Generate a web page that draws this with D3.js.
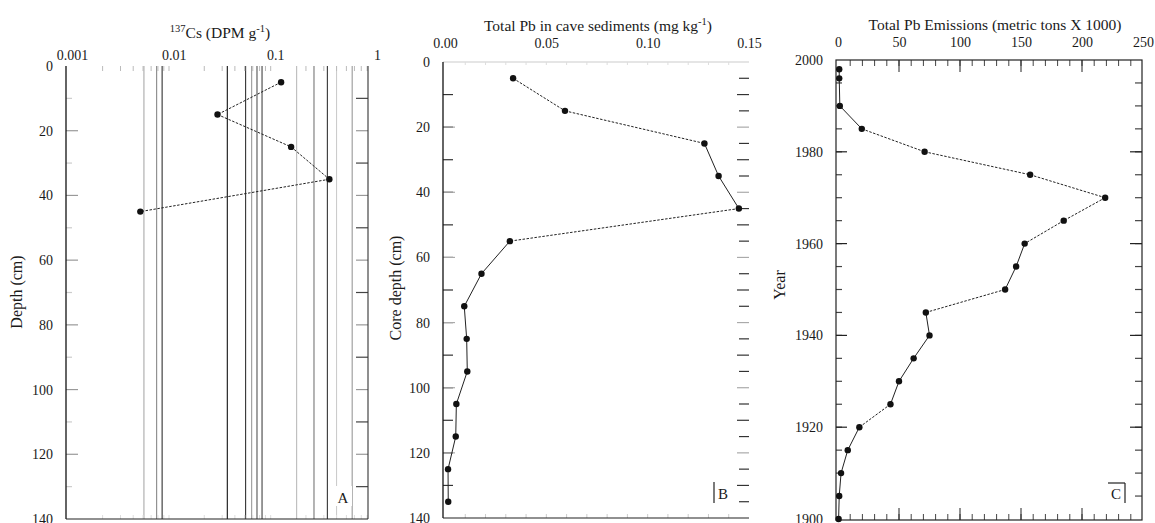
<!DOCTYPE html>
<html>
<head>
<meta charset="utf-8">
<script src="https://cdn.jsdelivr.net/npm/d3@7"></script>
<style>
  body { margin: 0; background: #fff; }
  svg text { font-family: "Liberation Serif", "DejaVu Serif", serif; fill: #1a1a1a; }
</style>
</head>
<body>
<div id="chart"></div>
<script>
// values

// panel A - 137Cs activity
const csDepth = [5, 15, 25, 35, 45];
const csValue = [0.114, 0.027, 0.143, 0.34, 0.0047];
// the vertical grid lines that show up in panel A
const csGrid = [0.0051, 0.0068, 0.0077, 0.0337, 0.051, 0.0585, 0.066, 0.074, 0.162, 0.24, 0.325, 0.40, 0.57];
const csTicks = [0.001, 0.01, 0.1, 1];

// panel B - total Pb in cave sediments
const pbDepth = [5, 15, 25, 35, 45, 55, 65, 75, 85, 95, 105, 115, 125, 135];
const pbValue = [0.0336, 0.0592, 0.128, 0.135, 0.145, 0.032, 0.018, 0.0095, 0.0107, 0.011, 0.0056, 0.0053, 0.0015, 0.0016];
const pbTicks = [0, 0.05, 0.10, 0.15];

// panel C - total Pb emissions
const emYear = [1998, 1996, 1990, 1985, 1980, 1975, 1970, 1965, 1960, 1955, 1950, 1945, 1940, 1935, 1930, 1925, 1920, 1915, 1910, 1905, 1900];
const emValue = [1, 1, 1.5, 19.5, 71, 157.5, 219, 185, 153, 146, 137, 72, 75, 62, 50, 43, 17.5, 8, 2.5, 1, 0.5];
const emTicks = [0, 50, 100, 150, 200, 250];

const depthTicks = [0, 20, 40, 60, 80, 100, 120, 140];
const yearTicks = [1900, 1920, 1940, 1960, 1980, 2000];

const width = 1155, height = 523;

const svg = d3.select("#chart")
  .append("svg")
  .attr("width", width)
  .attr("height", height);

// grey shades of the grid lines in panel A (scan look)
const gridShade = ["#aaa", "#888", "#333", "#111", "#333", "#999", "#555", "#444", "#bbb", "#777", "#333", "#ccc", "#999"];

// draws points joined by thin lines; shallow segments come out dotted like the scan
function drawProfile(g, x, y, xv, yv) {
  for (let i = 0; i < xv.length - 1; i++) {
    const x1 = x(xv[i]), y1 = y(yv[i]), x2 = x(xv[i + 1]), y2 = y(yv[i + 1]);
    const shallow = Math.abs(x2 - x1) > Math.abs(y2 - y1);
    g.append("line")
      .attr("x1", x1).attr("y1", y1)
      .attr("x2", x2).attr("y2", y2)
      .attr("stroke", "#222")
      .attr("stroke-width", 1)
      .attr("stroke-dasharray", shallow ? "2.5,1.5" : null);
  }
  g.selectAll("circle.pt")
    .data(xv)
    .enter()
    .append("circle")
      .attr("class", "pt")
      .attr("cx", (d) => x(d))
      .attr("cy", (d, i) => y(yv[i]))
      .attr("r", 3.2)
      .attr("fill", "#111");
}

// inward tick marks along a vertical edge
function vTicks(g, y, values, xEdge, dir, len, color) {
  g.selectAll(null)
    .data(values)
    .enter()
    .append("line")
      .attr("x1", xEdge).attr("x2", xEdge + dir * len)
      .attr("y1", (d) => y(d)).attr("y2", (d) => y(d))
      .attr("stroke", color)
      .attr("stroke-width", 1.2);
}

// inward tick marks along a horizontal edge
function hTicks(g, x, values, yEdge, dir, len, color) {
  g.selectAll(null)
    .data(values)
    .enter()
    .append("line")
      .attr("y1", yEdge).attr("y2", yEdge + dir * len)
      .attr("x1", (d) => x(d)).attr("x2", (d) => x(d))
      .attr("stroke", color)
      .attr("stroke-width", 1);
}

function superTitle(parts, cx, cy) {
  const t = svg.append("text")
    .attr("x", cx).attr("y", cy)
    .attr("text-anchor", "middle")
    .attr("font-size", "15.5px");
  parts.forEach((p) => {
    t.append("tspan")
      .attr("font-size", p.sup ? "10.5px" : "15.5px")
      .attr("dy", p.sup ? -6 : (p.after ? 6 : 0))
      .text(p.text);
  });
}

function leftLabels(g, y, values, xEdge, fmt) {
  g.append("g")
    .attr("transform", `translate(${xEdge},0)`)
    .call(d3.axisLeft(y).tickValues(values).tickSize(0).tickPadding(13).tickFormat(fmt))
    .call((a) => a.select(".domain").remove())
    .selectAll("text")
      .attr("font-size", "14px")
      .attr("font-family", "Liberation Serif, serif");
}

function topLabels(g, x, values, yPos, fmt) {
  g.append("g")
    .attr("transform", `translate(0,${yPos})`)
    .call(d3.axisTop(x).tickValues(values).tickSize(0).tickPadding(0).tickFormat(fmt))
    .call((a) => a.select(".domain").remove())
    .selectAll("text")
      .attr("font-size", "14px")
      .attr("font-family", "Liberation Serif, serif");
}

// ---------------- panel A ----------------
const gA = svg.append("g");
const aLeft = 66, aRight = 368, aTop = 66, aBottom = 519;

const xA = d3.scaleLog().domain([0.001, 1]).range([72, 377]);
const yA = d3.scaleLinear().domain([0, 140]).range([aTop, aBottom]);

gA.selectAll("line.grid")
  .data(csGrid)
  .enter()
  .append("line")
    .attr("class", "grid")
    .attr("x1", (d) => xA(d)).attr("x2", (d) => xA(d))
    .attr("y1", aTop).attr("y2", aBottom)
    .attr("stroke", (d, i) => gridShade[i])
    .attr("stroke-width", 1.1);

// minor log ticks on top edge
const logMinor = [];
[0.001, 0.01, 0.1].forEach((dec) => { for (let k = 2; k <= 9; k++) logMinor.push(dec * k); });
hTicks(gA, xA, logMinor.filter((v) => xA(v) < aRight), aTop, 1, 5, "#bbb");
hTicks(gA, xA, logMinor.filter((v) => xA(v) < aRight), aBottom, -1, 4, "#ddd");

vTicks(gA, yA, d3.range(20, 140, 20), aLeft, 1, 12, "#999");
vTicks(gA, yA, d3.range(10, 140, 20), aLeft, 1, 6, "#ccc");
vTicks(gA, yA, d3.range(20, 140, 20), aRight, -1, 12, "#999");
vTicks(gA, yA, d3.range(10, 140, 20), aRight, -1, 12, "#444");

gA.append("line").attr("x1", aLeft).attr("x2", aLeft).attr("y1", aTop).attr("y2", aBottom).attr("stroke", "#111").attr("stroke-width", 1.3);
gA.append("line").attr("x1", aRight).attr("x2", aRight).attr("y1", aTop).attr("y2", aBottom).attr("stroke", "#333").attr("stroke-width", 1.1);
gA.append("line").attr("x1", aLeft).attr("x2", aRight).attr("y1", aBottom).attr("y2", aBottom).attr("stroke", "#222").attr("stroke-width", 1.2);

drawProfile(gA, xA, yA, csValue, csDepth);

leftLabels(gA, yA, depthTicks, aLeft, d3.format("d"));
topLabels(gA, xA, csTicks, 60, (d) => String(d));

superTitle([{ text: "137", sup: true }, { text: "Cs (DPM g", after: true }, { text: "-1", sup: true }, { text: ")", after: true }], 220, 38);

gA.append("text")
  .attr("transform", "translate(22,292) rotate(-90)")
  .attr("text-anchor", "middle")
  .attr("font-size", "16px")
  .text("Depth (cm)");

gA.append("rect").attr("x", 334).attr("y", 486).attr("width", 18).attr("height", 20).attr("fill", "#fff");
gA.append("text").attr("x", 343).attr("y", 503).attr("text-anchor", "middle").attr("font-size", "15px").text("A");

// ---------------- panel B ----------------
const gB = svg.append("g");
const bLeft = 443, bRight = 749, bTop = 62, bBottom = 518;

const xB = d3.scaleLinear().domain([0, 0.15]).range([445, 749]);
const yB = d3.scaleLinear().domain([0, 140]).range([bTop, bBottom]);

gB.append("line").attr("x1", bLeft).attr("x2", bRight).attr("y1", bTop).attr("y2", bTop).attr("stroke", "#ccc").attr("stroke-width", 1.2);
hTicks(gB, xB, d3.range(0.01, 0.15, 0.01), bTop, 1, 3, "#ddd");
hTicks(gB, xB, d3.range(0.01, 0.15, 0.01), bBottom, -1, 4, "#ccc");

vTicks(gB, yB, d3.range(10, 140, 10), bLeft, 1, 10, "#333");
vTicks(gB, yB, d3.range(20, 140, 20), bLeft, 1, 12, "#aaa");
vTicks(gB, yB, d3.range(5, 140, 10), bRight, -1, 10, "#333");
vTicks(gB, yB, d3.range(10, 140, 20), bRight, -1, 12, "#333");
vTicks(gB, yB, d3.range(20, 140, 20), bRight, -1, 12, "#aaa");

gB.append("line").attr("x1", bLeft).attr("x2", bLeft).attr("y1", bTop).attr("y2", bBottom).attr("stroke", "#111").attr("stroke-width", 1.3);
gB.append("line").attr("x1", bLeft).attr("x2", bRight).attr("y1", bBottom).attr("y2", bBottom).attr("stroke", "#222").attr("stroke-width", 1.2);

drawProfile(gB, xB, yB, pbValue, pbDepth);

leftLabels(gB, yB, depthTicks, bLeft, d3.format("d"));
topLabels(gB, xB, pbTicks, 48, d3.format(".2f"));

superTitle([{ text: "Total Pb in cave sediments (mg kg" }, { text: "-1", sup: true }, { text: ")", after: true }], 598, 31);

gB.append("text")
  .attr("transform", "translate(401,288) rotate(-90)")
  .attr("text-anchor", "middle")
  .attr("font-size", "16px")
  .text("Core depth (cm)");

gB.append("line").attr("x1", 714).attr("x2", 714).attr("y1", 482).attr("y2", 503).attr("stroke", "#222").attr("stroke-width", 1.2);
gB.append("text").attr("x", 718).attr("y", 499).attr("font-size", "15px").text("B");

// ---------------- panel C ----------------
const gC = svg.append("g");
const cLeft = 836, cRight = 1142, cTop = 60, cBottom = 520;

const xC = d3.scaleLinear().domain([0, 250]).range([838, 1143]);
const yC = d3.scaleLinear().domain([1900, 2000]).range([519, 60]);

hTicks(gC, xC, d3.range(10, 250, 10), cTop, 1, 6, "#444");
hTicks(gC, xC, d3.range(50, 250, 50), cTop, 1, 12, "#222");
hTicks(gC, xC, d3.range(10, 250, 10), cBottom, -1, 6, "#444");
hTicks(gC, xC, d3.range(50, 250, 50), cBottom, -1, 12, "#222");

vTicks(gC, yC, d3.range(1905, 2000, 5), cLeft, 1, 6, "#444");
vTicks(gC, yC, d3.range(1920, 2000, 20), cLeft, 1, 11, "#222");
vTicks(gC, yC, d3.range(1905, 2000, 5), cRight, -1, 7, "#444");
vTicks(gC, yC, d3.range(1920, 2000, 20), cRight, -1, 12, "#222");

gC.append("rect")
  .attr("x", cLeft).attr("y", cTop)
  .attr("width", cRight - cLeft).attr("height", cBottom - cTop)
  .attr("fill", "none")
  .attr("stroke", "#222")
  .attr("stroke-width", 1.2);

drawProfile(gC, xC, yC, emValue, emYear);

leftLabels(gC, yC, yearTicks, cLeft, d3.format("d"));
topLabels(gC, xC, emTicks, 47, d3.format("d"));

superTitle([{ text: "Total Pb Emissions (metric tons X 1000)" }], 995, 30);

gC.append("text")
  .attr("transform", "translate(785,285) rotate(-90)")
  .attr("text-anchor", "middle")
  .attr("font-size", "16px")
  .text("Year");

gC.append("line").attr("x1", 1108).attr("x2", 1125).attr("y1", 483).attr("y2", 483).attr("stroke", "#222").attr("stroke-width", 1.2);
gC.append("line").attr("x1", 1125).attr("x2", 1125).attr("y1", 483).attr("y2", 503).attr("stroke", "#222").attr("stroke-width", 1.2);
gC.append("text").attr("x", 1116).attr("y", 499).attr("text-anchor", "middle").attr("font-size", "15px").text("C");
</script>
</body>
</html>
